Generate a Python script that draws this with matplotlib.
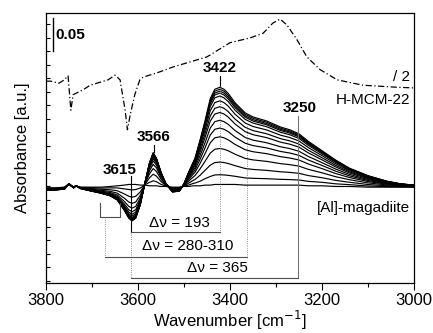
import numpy as np
import matplotlib
matplotlib.use("Agg")
import matplotlib.pyplot as plt

plt.rcParams['font.family'] = ['Liberation Sans', 'DejaVu Sans']

# ---------------- data ----------------
# H-MCM-22 reference spectrum (divided by 2), dash-dot
mcm_wn = [3800, 3790, 3772, 3760, 3752, 3746, 3741, 3720, 3704, 3665, 3650, 3639,
          3628, 3623, 3617, 3607, 3596, 3589, 3560, 3524, 3450, 3400, 3357, 3328,
          3307, 3291, 3276, 3254, 3233, 3204, 3167, 3111, 3037, 3000]
mcm_abs = [0.299, 0.299, 0.296, 0.301, 0.307, 0.256, 0.279, 0.286, 0.293, 0.301, 0.308, 0.301,
           0.256, 0.227, 0.249, 0.279, 0.301, 0.305, 0.311, 0.320, 0.335, 0.356, 0.363, 0.370,
           0.385, 0.391, 0.382, 0.360, 0.335, 0.316, 0.301, 0.293, 0.290, 0.289]

# [Al]-magadiite spectra: strongest (highest CO coverage) and weakest curve
mag_wn = [3800, 3780, 3760, 3750, 3745, 3740, 3735, 3725, 3700, 3680,
          3660, 3645, 3630, 3620, 3613, 3605, 3595, 3585, 3575, 3567,
          3560, 3550, 3540, 3525, 3510, 3500, 3490, 3480, 3476, 3465,
          3454, 3443, 3433, 3422, 3413, 3404, 3389, 3367, 3350, 3320,
          3290, 3270, 3250, 3230, 3200, 3170, 3140, 3100, 3060, 3030, 3000]
mag_strong = [0.138, 0.138, 0.139, 0.147, 0.144, 0.141, 0.144, 0.140, 0.136, 0.133,
              0.129, 0.123, 0.108, 0.096, 0.092, 0.096, 0.116, 0.148, 0.178, 0.193,
              0.185, 0.164, 0.148, 0.135, 0.136, 0.147, 0.164, 0.179, 0.185, 0.212,
              0.241, 0.273, 0.287, 0.290, 0.287, 0.281, 0.267, 0.252, 0.246, 0.240,
              0.231, 0.227, 0.221, 0.210, 0.196, 0.182, 0.170, 0.159, 0.151, 0.147, 0.145]
mag_weak = [0.141, 0.141, 0.142, 0.147, 0.144, 0.142, 0.144, 0.142, 0.142, 0.142,
            0.143, 0.144, 0.145, 0.146, 0.146, 0.146, 0.145, 0.145, 0.144, 0.144,
            0.144, 0.143, 0.143, 0.142, 0.142, 0.143, 0.143, 0.144, 0.144, 0.144,
            0.145, 0.145, 0.146, 0.146, 0.146, 0.146, 0.146, 0.145, 0.145, 0.145,
            0.145, 0.145, 0.145, 0.144, 0.144, 0.143, 0.143, 0.142, 0.142, 0.142, 0.142]
# relative band intensity of each spectrum in the series
# (H-bonded OH region < 3520 cm-1, free OH region >= 3520 cm-1)
frac_hbond = [1.0, 0.98, 0.96, 0.94, 0.91, 0.86, 0.80, 0.74, 0.66, 0.58, 0.49, 0.37, 0.23, 0.10, 0.0]
frac_free = [1.0, 0.99, 0.98, 0.97, 0.96, 0.94, 0.91, 0.87, 0.82, 0.75, 0.65, 0.52, 0.35, 0.15, 0.0]

peak_labels = ["3615", "3566", "3422", "3250"]

# ---------------- figure ----------------
fig = plt.figure(figsize=(4.33, 3.33), dpi=100)
ax = fig.add_axes([46/433, 1-283/333, 368/433, 270/333])
ax.set_xlim(3800, 3000)
ax.set_ylim(0, 0.4)

ax.plot(mcm_wn, mcm_abs, color='black', lw=0.9, linestyle=(0, (5, 2, 1, 2)))

wn = np.array(mag_wn)
strong = np.array(mag_strong)
weak = np.array(mag_weak)
assert len(wn) == len(strong) == len(weak)
for fh, ff in zip(frac_hbond, frac_free):
    f = np.where(wn >= 3520, ff, fh)
    ax.plot(wn, weak + f * (strong - weak), color='black', lw=0.85)

# scale bar
ax.plot([3785, 3785], [0.343, 0.393], color='black', lw=1.0)
ax.text(3779, 0.368, "0.05", fontsize=11, fontweight='bold', va='center', ha='left')

bold = dict(fontsize=11, fontweight='bold', ha='center', va='center')
# 3422
ax.text(3422, 0.318, peak_labels[2], **bold)
ax.plot([3422, 3422], [0.307, 0.292], color='black', lw=0.8)
ax.plot([3422, 3422], [0.292, 0.0756], color='0.4', lw=0.6, linestyle=':')
# 3566
ax.text(3566, 0.217, peak_labels[1], **bold)
ax.plot([3566, 3566], [0.205, 0.194], color='black', lw=0.8)
# 3615
ax.text(3639, 0.168, peak_labels[0], **bold)
ax.plot([3615, 3615], [0.159, 0.0756], color='black', lw=0.8)
ax.plot([3615, 3615], [0.0756, 0.0074], color='0.4', lw=0.6, linestyle=':')
# 3250
ax.text(3248, 0.260, peak_labels[3], **bold)
ax.plot([3252, 3252], [0.247, 0.0074], color='0.45', lw=0.8)

# brackets
ax.plot([3615, 3422], [0.0756, 0.0756], color='0.3', lw=0.8)
ax.text(3511, 0.089, "Δν = 193", fontsize=11, ha='center', va='center')

ax.plot([3683, 3683, 3639, 3639], [0.1185, 0.0978, 0.0978, 0.1185], color='0.3', lw=0.8)
ax.plot([3672, 3672], [0.0978, 0.0385], color='0.4', lw=0.6, linestyle=':')
ax.plot([3672, 3363], [0.0385, 0.0385], color='0.3', lw=0.8)
ax.plot([3363, 3363], [0.0385, 0.234], color='0.4', lw=0.6, linestyle=':')
ax.text(3491, 0.055, "Δν = 280-310", fontsize=11, ha='center', va='center')

ax.plot([3615, 3252], [0.0074, 0.0074], color='0.3', lw=0.8)
ax.text(3428, 0.022, "Δν = 365", fontsize=11, ha='center', va='center')

# labels
ax.text(3009, 0.305, "/ 2", fontsize=11, ha='right', va='center')
ax.text(3009, 0.271, "H-MCM-22", fontsize=11, ha='right', va='center')
ax.text(3009, 0.111, "[Al]-magadiite", fontsize=11, ha='right', va='center')

# axes styling
ax.set_xticks([3800, 3600, 3400, 3200, 3000])
ax.set_xticks(np.arange(3000, 3801, 100), minor=True)
ax.tick_params(axis='x', which='major', direction='out', length=5, width=0.8, labelsize=12, pad=2)
ax.tick_params(axis='x', which='minor', direction='out', length=3, width=0.8)
ax.set_yticks(np.arange(0.003, 0.4, 0.02))
ax.set_yticklabels([])
ax.tick_params(axis='y', which='major', direction='in', length=3, width=0.8)
for s in ax.spines.values():
    s.set_linewidth(0.9)
ax.set_xlabel("Wavenumber [cm$^{-1}$]", fontsize=12, labelpad=1)
ax.set_ylabel("Absorbance [a.u.]", fontsize=12, labelpad=8)

fig.savefig("out.png", dpi=100)
